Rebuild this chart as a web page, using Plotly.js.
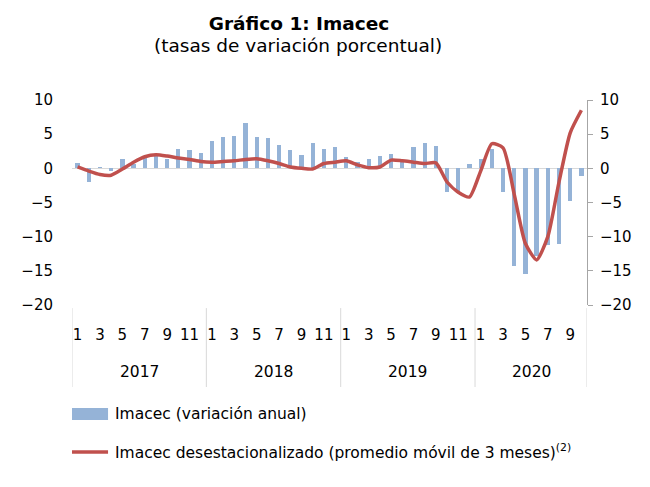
<!DOCTYPE html>
<html>
<head>
<meta charset="utf-8">
<script src="https://cdn.plot.ly/plotly-3.0.1.min.js"></script>
<style>
  html, body { margin: 0; padding: 0; background: #fff; }
  #chart { width: 650px; height: 487px; }
</style>
</head>
<body>
<div id="chart"></div>
<script>
// Imacec, ene-2017 a oct-2020
var years = ['2017', '2018', '2019', '2020']
var yearCenters = [5.5, 17.5, 29.5, 40.5]
var yearBreaks = [-0.5, 11.5, 23.5, 35.5, 45.5]

var monthTickVals = [0, 2, 4, 6, 8, 10, 12, 14, 16, 18, 20, 22,
  24, 26, 28, 30, 32, 34, 36, 38, 40, 42, 44]
var monthTickText = ['1', '3', '5', '7', '9', '11', '1', '3', '5', '7', '9', '11',
  '1', '3', '5', '7', '9', '11', '1', '3', '5', '7', '9']

// variacion anual (barras)
var imacecAnual = [
  0.8, -2.0, 0.2, -0.4, 1.3, 0.7, 1.5, 1.8, 1.3, 2.8, 2.7, 2.2,
  4.0, 4.6, 4.7, 6.6, 4.6, 4.4, 3.4, 2.7, 1.9, 3.7, 2.8, 3.1,
  1.7, 0.9, 1.3, 1.8, 2.1, 1.0, 3.1, 3.7, 3.2, -3.4, -3.6, 0.6,
  1.4, 2.8, -3.4, -14.3, -15.5, -12.8, -11.2, -11.0, -4.8, -1.1
]

// desestacionalizado, promedio movil 3 meses (linea)
var imacecDesest = [
  0.2, -0.4, -0.9, -1.0, -0.1, 0.9, 1.7, 2.0, 1.8, 1.5, 1.3, 1.0,
  0.9, 1.0, 1.1, 1.3, 1.4, 1.1, 0.7, 0.2, 0.0, -0.1, 0.7, 0.9,
  1.1, 0.5, 0.1, 0.2, 1.2, 1.1, 0.9, 0.7, 0.8, -2.0, -3.5, -4.2,
  -0.4, 3.6, 3.0, -3.8, -11.0, -13.4, -10.0, -2.0, 5.2, 8.5
]

var idx = imacecAnual.map(function (v, i) { return i })

var font = 'DejaVu Sans, sans-serif'
var gray = '#d9d9d9'
var barColor = '#95b3d7'
var lineColor = '#c0504d'

var data = [
  {
    x: idx,
    y: imacecAnual,
    type: 'bar',
    width: 0.38,
    marker: { color: barColor },
    hoverinfo: 'y',
    showlegend: false
  },
  {
    x: idx,
    y: imacecDesest,
    yaxis: 'y2',
    type: 'scatter',
    mode: 'lines',
    line: { color: lineColor, width: 3.5, shape: 'spline', smoothing: 0.6 },
    hoverinfo: 'y',
    showlegend: false
  }
]

var shapes = yearBreaks.map(function (xb) {
  return {
    type: 'line', xref: 'x', yref: 'paper',
    x0: xb, x1: xb, y0: -0.015, y1: -0.4,
    line: { color: gray, width: 1 }
  }
})
// leyenda
shapes.push({
  type: 'rect', xref: 'paper', yref: 'paper',
  x0: 0, x1: 0.07, y0: -0.502, y1: -0.561,
  fillcolor: barColor, line: { width: 0 }
})
shapes.push({
  type: 'line', xref: 'paper', yref: 'paper',
  x0: 0, x1: 0.07, y0: -0.717, y1: -0.717,
  line: { color: lineColor, width: 3.5 }
})

var annotations = years.map(function (yr, i) {
  return {
    text: yr, xref: 'x', yref: 'paper',
    x: yearCenters[i], y: -0.327,
    xanchor: 'center', yanchor: 'middle', showarrow: false,
    font: { family: font, size: 15.5, color: '#000' }
  }
})
annotations.push({
  text: '(tasas de variación porcentual)',
  xref: 'paper', yref: 'paper', x: 0.439, y: 1.265,
  xanchor: 'center', yanchor: 'middle', showarrow: false,
  font: { family: font, size: 18.5, color: '#000' }
})
annotations.push({
  text: 'Imacec (variación anual)',
  xref: 'paper', yref: 'paper', x: 0.0796, y: -0.532,
  xanchor: 'left', yanchor: 'middle', showarrow: false,
  font: { family: font, size: 15.5, color: '#000' }
})
annotations.push({
  text: 'Imacec desestacionalizado (promedio móvil de 3 meses)<sup>(2)</sup>',
  xref: 'paper', yref: 'paper', x: 0.0796, y: -0.717,
  xanchor: 'left', yanchor: 'middle', showarrow: false,
  font: { family: font, size: 15.5, color: '#000' }
})

var layout = {
  width: 650,
  height: 487,
  margin: { l: 72, r: 63, t: 100, b: 182 },
  paper_bgcolor: '#fff',
  plot_bgcolor: '#fff',
  title: {
    text: '<b>Gráfico 1: Imacec</b>',
    x: 0.46, y: 0.951, xref: 'container', yref: 'container',
    xanchor: 'center', yanchor: 'middle',
    font: { family: font, size: 18.5, color: '#000' }
  },
  xaxis: {
    range: [-0.5, 45.5],
    tickmode: 'array',
    tickvals: monthTickVals,
    ticktext: monthTickText,
    ticks: '',
    ticklabelstandoff: 19,
    showgrid: false,
    zeroline: false,
    showline: false,
    tickfont: { family: font, size: 15, color: '#000' }
  },
  yaxis: {
    range: [-20, 10],
    dtick: 5,
    showgrid: false,
    zeroline: true,
    zerolinecolor: gray,
    zerolinewidth: 1,
    showline: false,
    ticks: '',
    ticklabelstandoff: 18,
    tickfont: { family: font, size: 15, color: '#000' }
  },
  yaxis2: {
    range: [-20, 10],
    dtick: 5,
    overlaying: 'y',
    side: 'right',
    showgrid: false,
    zeroline: false,
    showline: true,
    linecolor: '#a6a6a6',
    linewidth: 1,
    ticks: 'outside',
    ticklen: 5,
    tickcolor: '#a6a6a6',
    ticklabelstandoff: 4,
    tickfont: { family: font, size: 15, color: '#000' }
  },
  bargap: 0,
  shapes: shapes,
  annotations: annotations
}

Plotly.newPlot('chart', data, layout, { displayModeBar: false, staticPlot: true })
</script>
</body>
</html>
